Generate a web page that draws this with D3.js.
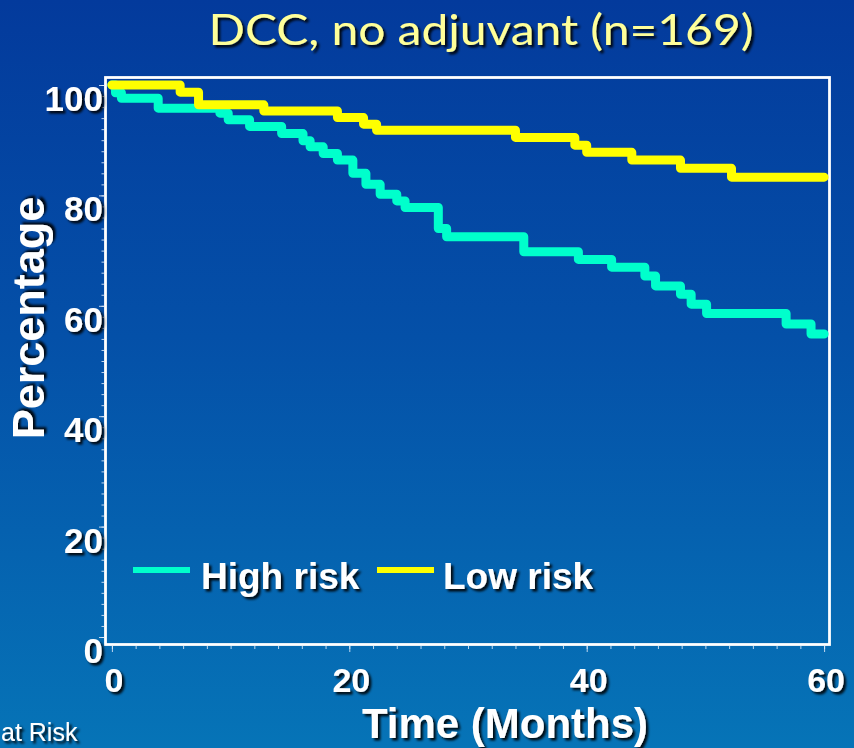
<!DOCTYPE html>
<html>
<head>
<meta charset="utf-8">
<script src="https://cdn.jsdelivr.net/npm/d3@7"></script>
<style>
  html, body { margin: 0; padding: 0; background: #0550a8; }
  svg { display: block; }
</style>
</head>
<body>
<svg id="chart" width="854" height="748"></svg>
<script>
// Kaplan–Meier curves: months of follow-up and percentage event-free at each step
const highRiskMonths   = [0, 0.3, 0.8, 3.9, 9.1, 9.8, 11.6, 14.3, 16.1, 16.7, 17.8, 19.0, 20.3, 21.4, 22.6, 24.0, 24.7, 27.5, 28.2, 34.7, 39.3, 42.1, 44.9, 45.8, 47.9, 48.8, 50.1, 56.8, 58.9, 60];
const highRiskPercent  = [100, 98.6, 97.6, 95.8, 94.9, 93.7, 92.5, 91.2, 89.9, 88.8, 87.6, 86.4, 84.0, 82.0, 80.2, 79.0, 77.8, 74.0, 72.5, 69.8, 68.4, 67.0, 65.4, 63.6, 62.1, 60.3, 58.6, 56.7, 54.9, 54.9];
const lowRiskMonths    = [0, 5.75, 7.3, 12.8, 19.0, 21.2, 22.3, 34.0, 39.0, 40.0, 43.8, 47.9, 52.2, 60];
const lowRiskPercent   = [100, 98.7, 96.4, 95.3, 94.1, 92.9, 91.8, 90.5, 89.1, 87.8, 86.4, 84.9, 83.3, 83.3];

const seriesNames  = ["High risk", "Low risk"];
const seriesColors = ["#00ffcc", "#ffff00"];

const xTickLabels = [0, 20, 40, 60];
const yTickLabels = [0, 20, 40, 60, 80, 100];

const titleText  = "DCC, no adjuvant (n=169)";
const xAxisTitle = "Time (Months)";
const yAxisTitle = "Percentage";
const footText   = "at Risk";

const W = 854, H = 748;
const svg = d3.select("#chart");
const defs = svg.append("defs");

// background gradient
const grad = defs.append("linearGradient").attr("id", "bg").attr("x1", 0).attr("y1", 0).attr("x2", 0).attr("y2", 1);
grad.append("stop").attr("offset", "0%").attr("stop-color", "#033a9c");
grad.append("stop").attr("offset", "45%").attr("stop-color", "#0450a8");
grad.append("stop").attr("offset", "100%").attr("stop-color", "#0674b7");
svg.append("rect").attr("width", W).attr("height", H).attr("fill", "url(#bg)");

// drop shadow for text
const shadow = defs.append("filter").attr("id", "shadow")
  .attr("x", "-10%").attr("y", "-20%").attr("width", "130%").attr("height", "150%");
shadow.append("feDropShadow").attr("dx", 2.5).attr("dy", 2.5).attr("stdDeviation", 0.9)
  .attr("flood-color", "#000").attr("flood-opacity", 0.9);

const x = d3.scaleLinear().domain([0, 60]).range([111.9, 824.1]);
const y = d3.scaleLinear().domain([0, 100]).range([637, 85]);

const boldFont = "'Liberation Sans', Arial, sans-serif";

// title
svg.append("text")
  .attr("x", 481).attr("y", 45)
  .attr("text-anchor", "middle")
  .attr("font-family", "Lato, 'Open Sans', sans-serif")
  .attr("font-size", 42)
  .attr("fill", "#ffff99")
  .attr("textLength", 545).attr("lengthAdjust", "spacingAndGlyphs")
  .attr("filter", "url(#shadow)")
  .text(titleText);

// plot frame
svg.append("rect")
  .attr("x", 105.5).attr("y", 77.5).attr("width", 724).attr("height", 567)
  .attr("fill", "none").attr("stroke", "#ffffff").attr("stroke-width", 2.8);

// y axis: minor ticks every 2%, major ticks with labels every 20%
const tickColor = "rgba(225,235,250,0.85)";
const yMinor = svg.append("g").attr("transform", "translate(104,0)")
  .call(d3.axisLeft(y).tickValues(d3.range(0, 101, 2)).tickSize(2.5).tickFormat(""));
const yMajor = svg.append("g").attr("transform", "translate(104,0)")
  .call(d3.axisLeft(y).tickValues(yTickLabels).tickSize(5).tickPadding(-4));
[yMinor, yMajor].forEach(g => {
  g.select(".domain").remove();
  g.selectAll("line").attr("stroke", tickColor).attr("stroke-width", 1);
});
yMajor.selectAll("text")
  .attr("dy", 25.5)
  .attr("fill", "#ffffff")
  .attr("font-family", boldFont).attr("font-weight", "bold").attr("font-size", 35)
  .attr("filter", "url(#shadow)");

// x axis: minor ticks every 2 months, major ticks with labels every 20
const xMinor = svg.append("g").attr("transform", "translate(0,646)")
  .call(d3.axisBottom(x).tickValues(d3.range(0, 61, 2)).tickSize(3).tickFormat(""));
const xMajor = svg.append("g").attr("transform", "translate(0,646)")
  .call(d3.axisBottom(x).tickValues(xTickLabels).tickSize(6));
[xMinor, xMajor].forEach(g => {
  g.select(".domain").remove();
  g.selectAll("line").attr("stroke", tickColor).attr("stroke-width", 1);
});
xMajor.selectAll("text")
  .attr("y", 46).attr("dy", 0).attr("dx", 1.5)
  .attr("fill", "#ffffff")
  .attr("font-family", boldFont).attr("font-weight", "bold").attr("font-size", 34)
  .attr("filter", "url(#shadow)");

// axis titles
svg.append("text")
  .attr("transform", "translate(44,318) rotate(-90)")
  .attr("text-anchor", "middle")
  .attr("font-family", boldFont).attr("font-weight", "bold").attr("font-size", 45)
  .attr("fill", "#ffffff").attr("filter", "url(#shadow)")
  .text(yAxisTitle);

svg.append("text")
  .attr("x", 505).attr("y", 738)
  .attr("text-anchor", "middle")
  .attr("font-family", boldFont).attr("font-weight", "bold").attr("font-size", 42)
  .attr("fill", "#ffffff").attr("filter", "url(#shadow)")
  .text(xAxisTitle);

svg.append("text")
  .attr("x", 1).attr("y", 741)
  .attr("font-family", boldFont).attr("font-size", 25)
  .attr("fill", "#ffffff").attr("filter", "url(#shadow)")
  .text(footText);

// survival step curves
const series = [
  { name: seriesNames[0], color: seriesColors[0], pts: highRiskMonths.map((m, i) => [m, highRiskPercent[i]]) },
  { name: seriesNames[1], color: seriesColors[1], pts: lowRiskMonths.map((m, i) => [m, lowRiskPercent[i]]) }
];
const line = d3.line().x(d => x(d[0])).y(d => y(d[1])).curve(d3.curveStepAfter);
svg.append("g").selectAll("path").data(series).join("path")
  .attr("d", d => line(d.pts))
  .attr("fill", "none")
  .attr("stroke", d => d.color)
  .attr("stroke-width", 9)
  .attr("stroke-linejoin", "round")
  .attr("stroke-linecap", "round");

// legend
const legendX = [133, 377];
const legend = svg.append("g").selectAll("g").data(series).join("g")
  .attr("transform", (d, i) => `translate(${legendX[i]},570)`);
legend.append("line")
  .attr("x1", 0).attr("x2", 57).attr("y1", 0).attr("y2", 0)
  .attr("stroke", d => d.color).attr("stroke-width", 6);
legend.append("text")
  .attr("x", (d, i) => i === 0 ? 68 : 66).attr("y", 18.5)
  .attr("font-family", boldFont).attr("font-weight", "bold").attr("font-size", 37)
  .attr("fill", "#ffffff").attr("filter", "url(#shadow)")
  .text(d => d.name);
</script>
</body>
</html>
